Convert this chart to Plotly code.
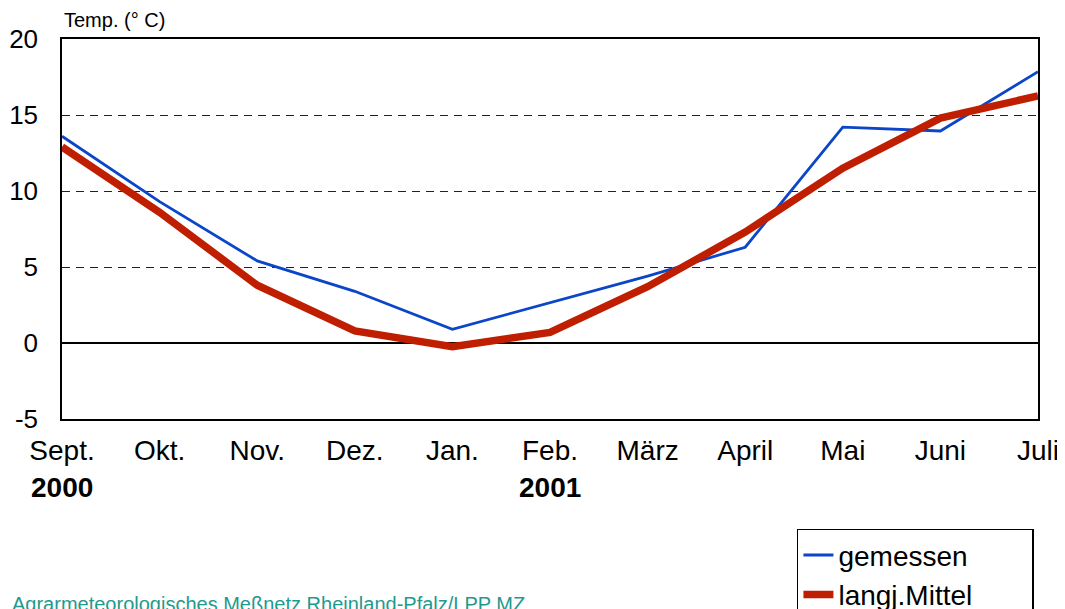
import plotly.graph_objects as go

months = ["Sept.", "Okt.", "Nov.", "Dez.", "Jan.", "Feb.", "März", "April", "Mai", "Juni", "Juli"]
gemessen = [13.6, 9.3, 5.4, 3.4, 0.9, 2.65, 4.4, 6.3, 14.2, 13.95, 17.85]
langj_mittel = [12.9, 8.6, 3.8, 0.8, -0.25, 0.7, 3.7, 7.3, 11.5, 14.8, 16.25]
y_ticks = [-5, 0, 5, 10, 15, 20]
y_tick_text = ["-5", "0", "5", "10", "15", "20"]
years = [("2000", 0), ("2001", 5)]
series_names = ["gemessen", "langj.Mittel"]

xs = list(range(len(months)))
FONT = "Liberation Sans, Arial, sans-serif"
FS = 28
PAD = "&nbsp;" * 7

fig = go.Figure()
fig.add_trace(go.Scatter(x=xs, y=gemessen, mode="lines", name=series_names[0],
                         line=dict(color="#0b45c8", width=2.8)))
fig.add_trace(go.Scatter(x=xs, y=langj_mittel, mode="lines", name=series_names[1] + PAD,
                         line=dict(color="#c01e00", width=7.5)))

for label, idx in years:
    fig.add_annotation(x=idx, y=-0.179, xref="x", yref="paper", text="<b>%s</b>" % label,
                       showarrow=False, font=dict(family=FONT, size=FS, color="black"),
                       xanchor="center", yanchor="middle")

fig.add_annotation(x=0, y=1.0, xref="paper", yref="paper", text="Temp. (° C)",
                   showarrow=False, font=dict(family=FONT, size=20, color="black"),
                   xanchor="left", yanchor="middle", yshift=19)

fig.add_annotation(x=-0.053, y=-0.487, xref="paper", yref="paper",
                   text="Agrarmeteorologisches Meßnetz Rheinland-Pfalz/LPP MZ",
                   showarrow=False, font=dict(family=FONT, size=20, color="#1f9a8e"),
                   xanchor="left", yanchor="middle")

fig.update_xaxes(range=[0, 10], tickvals=xs, ticktext=months, showgrid=False,
                 zeroline=False, showline=True, linecolor="black", linewidth=1.5, mirror=True,
                 ticks="outside", ticklen=6, tickcolor="rgba(0,0,0,0)",
                 tickfont=dict(family=FONT, size=FS, color="black"))
fig.update_yaxes(range=[-5, 20], tickvals=y_ticks, ticktext=y_tick_text, showgrid=True,
                 gridcolor="#222", griddash="8px,6px", gridwidth=1, zeroline=True,
                 zerolinecolor="black", zerolinewidth=1.5, showline=True, linecolor="black",
                 linewidth=1.5, mirror=True,
                 ticks="outside", ticklen=17, tickcolor="rgba(0,0,0,0)",
                 tickfont=dict(family=FONT, size=26, color="black"))

fig.update_layout(
    width=1065, height=609,
    margin=dict(l=54, r=35, t=31, b=198, autoexpand=False),
    plot_bgcolor="white", paper_bgcolor="white",
    showlegend=True,
    legend=dict(x=0.753, y=-0.289, xanchor="left", yanchor="top",
                bordercolor="black", borderwidth=1.5, bgcolor="white",
                font=dict(family=FONT, size=FS, color="black"),
                tracegroupgap=0, itemwidth=30),
)

fig.write_html("out.html")
